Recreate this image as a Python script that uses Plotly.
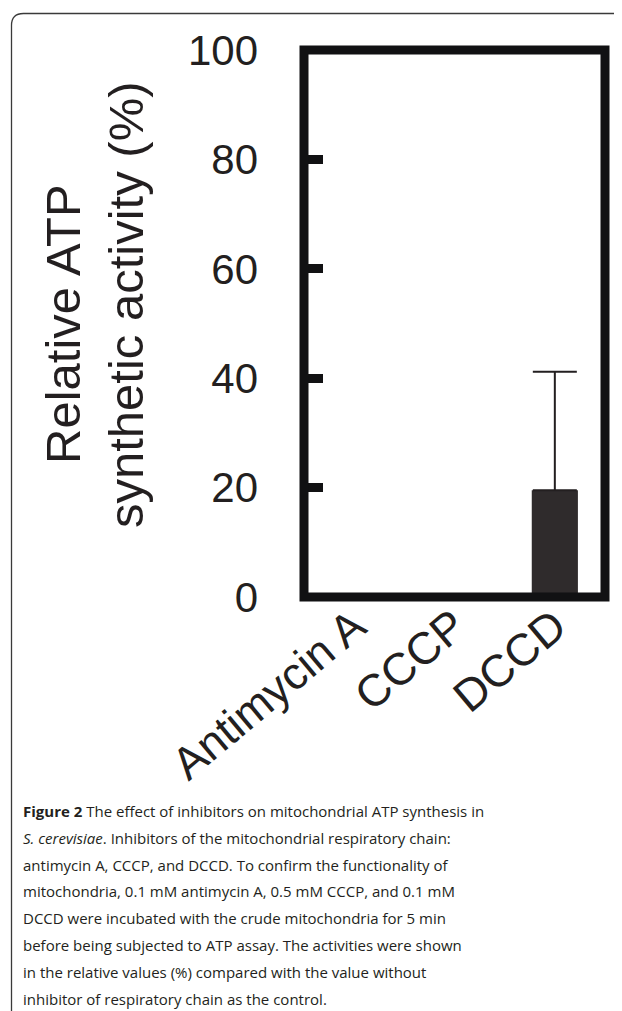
import plotly.graph_objects as go

# ---- data ----
categories = ["Antimycin A", "CCCP", "DCCD"]
activity = [0, 0, 19.5]
error_up = [0, 0, 21.7]
y_ticks = [0, 20, 40, 60, 80, 100]
y_title_lines = ["Relative ATP", "synthetic activity (%)"]
caption_lines = [
    "<b>Figure 2</b> The effect of inhibitors on mitochondrial ATP synthesis in",
    "<i>S. cerevisiae</i>. Inhibitors of the mitochondrial respiratory chain:",
    "antimycin A, CCCP, and DCCD. To confirm the functionality of",
    "mitochondria, 0.1 mM antimycin A, 0.5 mM CCCP, and 0.1 mM",
    "DCCD were incubated with the crude mitochondria for 5 min",
    "before being subjected to ATP assay. The activities were shown",
    "in the relative values (%) compared with the value without",
    "inhibitor of respiratory chain as the control.",
]

# page is offset by the browser's 8px body margin
OFF = 8
W, H = 622 - OFF, 1011 - OFF
# plot area in page pixels: x 304..605, y 50..597
L, T = 304 - OFF, 50 - OFF
R = W - (605 - OFF)
B = H - (597 - OFF)
PW, PH = W - L - R, H - T - B


def px(x):
    """page pixel x -> paper"""
    return (x - OFF - L) / PW


def py(y):
    """page pixel y -> paper"""
    return 1 - (y - OFF - T) / PH


ink = "#231f20"
fig = go.Figure()
fig.add_trace(go.Bar(
    x=categories, y=activity, width=0.46,
    marker=dict(color="#2f2b2c", line=dict(width=0)),
    error_y=dict(type="data", symmetric=False, array=error_up,
                 arrayminus=[0, 0, 0], width=22, thickness=2, color=ink),
))

fig.update_layout(
    width=W, height=H,
    margin=dict(l=L, r=R, t=T, b=B, pad=0),
    paper_bgcolor="white", plot_bgcolor="white",
    showlegend=False,
    font=dict(family="Liberation Sans, Arial, sans-serif", color=ink),
    xaxis=dict(
        type="category", range=[-0.5, 2.5], showgrid=False, zeroline=False,
        showline=False, ticks="", tickangle=-40, ticklabelstandoff=-7,
        tickfont=dict(size=45, family="Liberation Sans, Arial", color=ink),
        fixedrange=True,
    ),
    yaxis=dict(
        range=[0, 100], tickvals=y_ticks, showgrid=False, zeroline=False,
        showline=False, ticks="inside", ticklen=19, tickwidth=9,
        tickcolor="#111113", ticklabelstandoff=45,
        tickfont=dict(size=42, family="Liberation Sans, Arial", color=ink),
        fixedrange=True,
    ),
)

# plot frame (thick black box)
fig.add_shape(type="rect", xref="x domain", yref="y domain", x0=0, x1=1, y0=0, y1=1,
              line=dict(color="#111113", width=9), layer="above")

# outer figure panel border with rounded top-left corner
fx, fy, rr = 11.5, 13.5, 12
path = (f"M {px(fx)} {py(1040)} L {px(fx)} {py(fy + rr)} "
        f"Q {px(fx)} {py(fy)} {px(fx + rr)} {py(fy)} L {px(650)} {py(fy)}")
fig.add_shape(type="path", xref="paper", yref="paper", path=path,
              line=dict(color="#3a3a3a", width=1.3))

# y-axis title as two rotated lines
title_pos = [(62.5, 324.5), (126, 305)]
for text, (x, y) in zip(y_title_lines, title_pos):
    fig.add_annotation(text=text, xref="paper", yref="paper", x=px(x), y=py(y),
                       xanchor="center", yanchor="middle", textangle=-90,
                       showarrow=False,
                       font=dict(size=49, family="Liberation Sans, Arial", color=ink))

# caption
for i, line in enumerate(caption_lines):
    fig.add_annotation(text=line, xref="paper", yref="paper",
                       x=px(21), y=py(811 + i * 26.8), xanchor="left", yanchor="middle",
                       align="left", showarrow=False,
                       font=dict(size=15, family="Open Sans, sans-serif", color=ink))

fig.write_html("out.html")
